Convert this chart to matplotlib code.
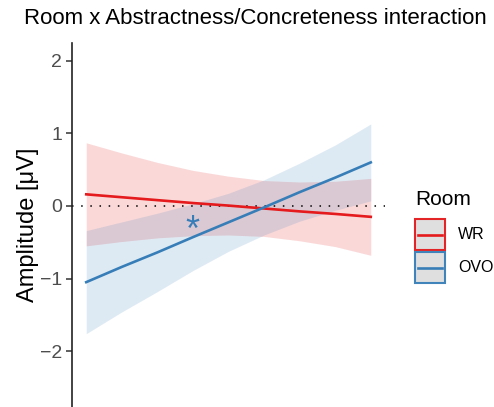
import matplotlib
matplotlib.use("Agg")
import matplotlib.pyplot as plt
from matplotlib.patches import Rectangle
from matplotlib.lines import Line2D
import numpy as np

plt.rcParams['font.family'] = ['Liberation Sans', 'DejaVu Sans']

# abstractness/concreteness (no ticks shown on x)
conc = [0.0, 0.125, 0.25, 0.375, 0.5, 0.625, 0.75, 0.875, 1.0]

# WR room
wr_fit = [0.16, 0.12, 0.08, 0.04, 0.005, -0.035, -0.075, -0.11, -0.15]
wr_lo = [-0.55, -0.49, -0.44, -0.41, -0.40, -0.42, -0.48, -0.56, -0.68]
wr_hi = [0.87, 0.73, 0.60, 0.49, 0.41, 0.35, 0.33, 0.34, 0.38]

# OVO room
ovo_fit = [-1.05, -0.84, -0.64, -0.43, -0.225, -0.02, 0.19, 0.39, 0.60]
ovo_lo = [-1.76, -1.46, -1.18, -0.89, -0.625, -0.40, -0.21, -0.06, 0.07]
ovo_hi = [-0.34, -0.22, -0.10, 0.03, 0.175, 0.36, 0.59, 0.84, 1.13]

rooms = ['WR', 'OVO']
yticks = [-2, -1, 0, 1, 2]
red = '#E41A1C'
blue = '#377EB8'

W, H = 494, 407
def px(x, y):
    return (x / W, 1 - y / H)

fig = plt.figure(figsize=(W / 100, H / 100), dpi=100)
ax = fig.add_axes([72 / W, 0.0, (385 - 72) / W, 1 - 43 / H])

ax.fill_between(conc, wr_lo, wr_hi, color=red, alpha=0.17, lw=0)
ax.fill_between(conc, ovo_lo, ovo_hi, color=blue, alpha=0.16, lw=0)
ax.axhline(0, color='black', lw=1.1, ls=(0, (1, 5)))
ax.plot(conc, wr_fit, color=red, lw=1.9)
ax.plot(conc, ovo_fit, color=blue, lw=1.9)

# significance marker
ax.text(0.372, -0.35, '*', color=blue, fontsize=26, ha='center', va='center')

ax.set_xlim(-0.05, 1.05)
ax.set_ylim(-2.77, 2.245)
ax.set_yticks(yticks)
ax.set_yticklabels([str(t).replace('-', '\u2212') for t in yticks])
ax.set_xticks([])
for s in ['top', 'right', 'bottom']:
    ax.spines[s].set_visible(False)
ax.spines['left'].set_color('#222222')
ax.spines['left'].set_linewidth(1.2)
ax.tick_params(axis='y', colors='#333333', labelcolor='#4D4D4D', labelsize=14, length=4, width=1.1, pad=3)
ax.set_ylabel('Amplitude [\u03bcV]', fontsize=17, labelpad=1)

fig.text(*px(255, 18), 'Room x Abstractness/Concreteness interaction', fontsize=16, ha='center', va='center')
fig.text(*px(81, -2), ')', fontsize=16, ha='center', va='bottom')

# legend drawn by hand (ggplot-style key boxes)
fig.text(*px(415, 205), 'Room', fontsize=15, ha='left', va='baseline')
for i, (lab, col) in enumerate(zip(rooms, [red, blue])):
    top = 219 + i * 33
    x0, y0 = px(415, top + 31)
    fig.add_artist(Rectangle((x0, y0), 30 / W, 31 / H, transform=fig.transFigure,
                             facecolor='#DEDEDE', edgecolor=col, lw=1.5, alpha=0.95))
    ya = px(0, top + 15.5)[1]
    fig.add_artist(Line2D([418 / W, 442 / W], [ya, ya], transform=fig.transFigure, color=col, lw=1.9))
    fig.text(*px(458, top + 15.5), lab, fontsize=11.5, ha='left', va='center')

fig.savefig('out.png', dpi=100)
